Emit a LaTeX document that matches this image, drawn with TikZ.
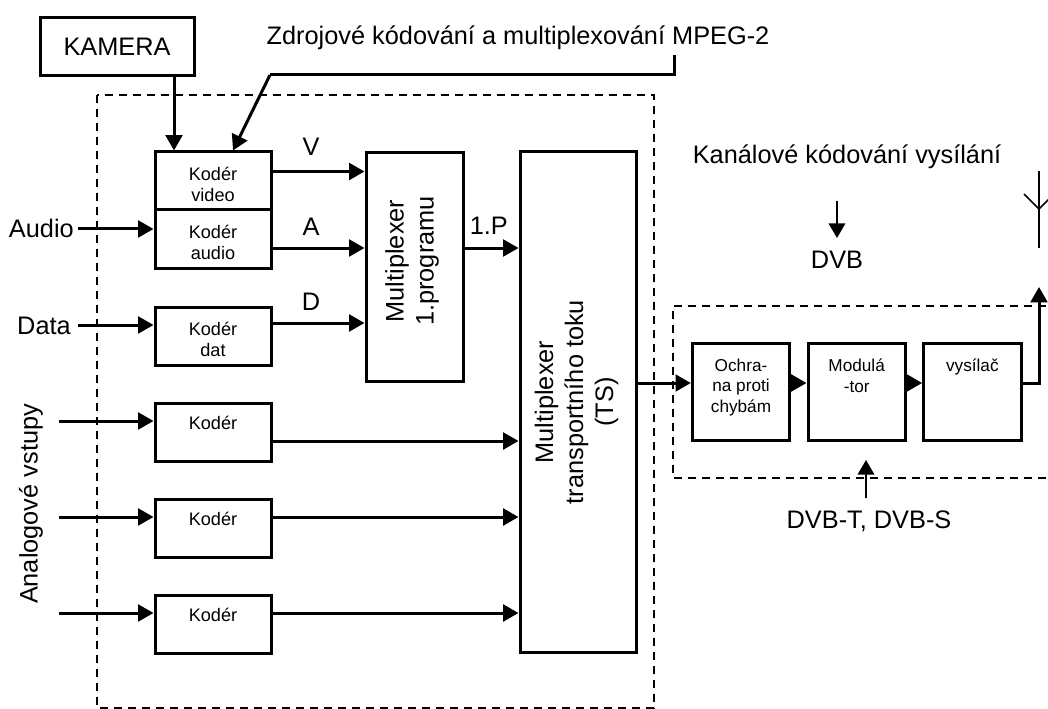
\documentclass[tikz,border=0pt]{standalone}
\usepackage{fontspec}
\setmainfont{Liberation Sans}
\usetikzlibrary{positioning, arrows.meta}

\newcommand{\vtext}[2][0pt]{\rotatebox{90}{\begin{tabular}{@{\hspace{#1}}c@{}}#2\end{tabular}}}
\newcommand{\dolu}{\rule{0pt}{15pt}}

\begin{document}
\begin{tikzpicture}[
    x=0.75pt, y=-0.75pt,
    box/.style={rectangle, draw=black, line width=2.25pt, inner sep=0pt, align=center},
    kod/.style={box, minimum width=87pt, minimum height=43.5pt, font=\fontsize{13.6}{16.3}\selectfont},
    blok/.style={box, minimum width=73pt, minimum height=73pt, font=\fontsize{12.9}{15.4}\selectfont},
    mux/.style={box, font=\fontsize{19}{22.5}\selectfont},
    arrow/.style={-{Triangle[length=11.5pt, width=12.5pt]}, line width=2.25pt, black},
    thin/.style={-{Triangle[length=11pt, width=12.5pt]}, line width=1.3pt, black},
    rule/.style={line width=1.3pt, black},
    frame/.style={dashed, dash pattern=on 6pt off 4.5pt, line width=1.1pt, black},
    lab/.style={font=\fontsize{19}{22.5}\selectfont, inner sep=0pt}
  ]
    \useasboundingbox (0,0) rectangle (1048,709);

    % zdrojova cast
    \node[box, minimum width=115.5pt, minimum height=43.5pt, font=\fontsize{19}{22.5}\selectfont] (kamera) at (117,46.5) {KAMERA};
    \node[kod] (video) at (213,181) {\dolu Kodér\\video};
    \node[kod, below=0pt of video.south, yshift=2.25pt] (audio) {\dolu Kodér\\audio};
    \node[kod, below=27pt of audio] (dat) {\dolu Kodér\\dat};
    \node[kod, below=26.25pt of dat] (kod1) {Kodér\\[-3pt]\mbox{}};
    \node[kod, below=26.25pt of kod1] (kod2) {Kodér\\[-3pt]\mbox{}};
    \node[kod, below=26.25pt of kod2] (kod3) {Kodér\\[-3pt]\mbox{}};

    \node[mux, minimum width=72.75pt, minimum height=172pt] (prog) at (414.5,267) {\vtext[9pt]{Multiplexer\\1.programu}\hspace{3pt}};
    \node[mux, minimum width=87pt, minimum height=375pt] (ts) at (578,402) {\vtext{Multiplexer\\transportního toku\\(TS)}\hspace{1.5pt}};

    % kanalova cast
    \node[blok] (ochra) at (741,392) {Ochra-\\na proti\\chybám\\[-6pt]\mbox{}};
    \node[blok, right=11.5pt of ochra] (modul) {Modulá\\-tor\\\mbox{}\\[-6pt]\mbox{}};
    \node[blok, right=11.5pt of modul] (vysilac) {vysílač\\\mbox{}\\\mbox{}\\[-6pt]\mbox{}};

    % ramecky
    \draw[frame] (97,95) rectangle (654,708);
    \draw[frame] (1046,306) -- (673,306) -- (673,478) -- (1060,478);

    % popisy
    \node[lab] (zdroj) at (518,38) {Zdrojové kódování a multiplexování MPEG-2};
    \node[lab] (kanal) at (847,157) {Kanálové kódování vysílání};
    \node[lab] (dvb) at (837,260) {DVB};
    \node[lab] (dvbts) at (869,521) {DVB-T, DVB-S};
    \node[lab, anchor=east] (vaudio) at (74,228) {Audio};
    \node[lab, anchor=east] (vdata) at (71,326) {Data};
    \node[lab] (analog) at (31,504) {\rotatebox{90}{Analogové vstupy}};

    \coordinate (inaudio) at (78,229);
    \coordinate (indata) at (78,325);
    \coordinate (in1) at (58.5,421);
    \coordinate (in2) at (58.5,517);
    \coordinate (in3) at (58.5,613);
    \coordinate (lom1) at (270,75);
    \coordinate (lom2) at (674,75);
    \coordinate (lom3) at (674,55);
    \coordinate (dvbtop) at (837,201);
    \coordinate (dvbend) at (837,238);
    \coordinate (dvbtsend) at (866,498);
    \coordinate (dvbtstop) at (866,460);
    \coordinate (vyst) at (1039,383);
    \coordinate (vysttop) at (1039,287);
    \coordinate (anttop) at (1039,171);
    \coordinate (antbot) at (1039,248);
    \coordinate (antst) at (1039,209);
    \coordinate (antl) at (1024,194);
    \coordinate (antr) at (1054,194);

    % vstupy
    \draw[arrow] (kamera.south -| 174,0) -- (video.north -| 174,0);
    \draw[line width=2.25pt] (lom3) -- (lom2) -- (lom1);
    \draw[arrow] (lom1) -- (video.north -| 233,0);
    \draw[arrow] (inaudio) -- (inaudio -| audio.west);
    \draw[arrow] (indata) -- (indata -| dat.west);
    \draw[arrow] (in1) -- (in1 -| kod1.west);
    \draw[arrow] (in2) -- (in2 -| kod2.west);
    \draw[arrow] (in3) -- (in3 -| kod3.west);

    % vystupy koderu
    \draw[arrow] (video.east |- 0,171.5) -- node[pos=.42, above=11pt, lab] {V} (prog.west |- 0,171.5);
    \draw[arrow] (audio.east |- 0,248) -- node[pos=.42, above=8pt, lab] {A} (prog.west |- 0,248);
    \draw[arrow] (dat.east |- 0,323) -- node[pos=.42, above=8pt, lab] {D} (prog.west |- 0,323);
    \draw[arrow] (prog.east |- 0,248) -- node[pos=.45, above=9pt, lab] {1.P} (ts.west |- 0,248);
    \draw[arrow] (kod1.east |- 0,441) -- (ts.west |- 0,441);
    \draw[arrow] (kod2.east |- 0,517) -- (ts.west |- 0,517);
    \draw[arrow] (kod3.east |- 0,613) -- (ts.west |- 0,613);

    % kanalove kodovani
    \draw[arrow] (ts.east |- 0,383) -- (ochra.west |- 0,383);
    \draw[arrow] (ochra.east |- 0,383) -- (modul.west |- 0,383);
    \draw[arrow] (modul.east |- 0,383) -- (vysilac.west |- 0,383);
    \draw[arrow] (vysilac.east |- 0,383) -- (vyst) -- (vysttop);

    \draw[thin] (dvbtop) -- (dvbend);
    \draw[thin] (dvbtsend) -- (dvbtstop);
    \draw[rule] (anttop) -- (antbot);
    \draw[rule] (antl) -- (antst) -- (antr);
  \end{tikzpicture}
\end{document}
